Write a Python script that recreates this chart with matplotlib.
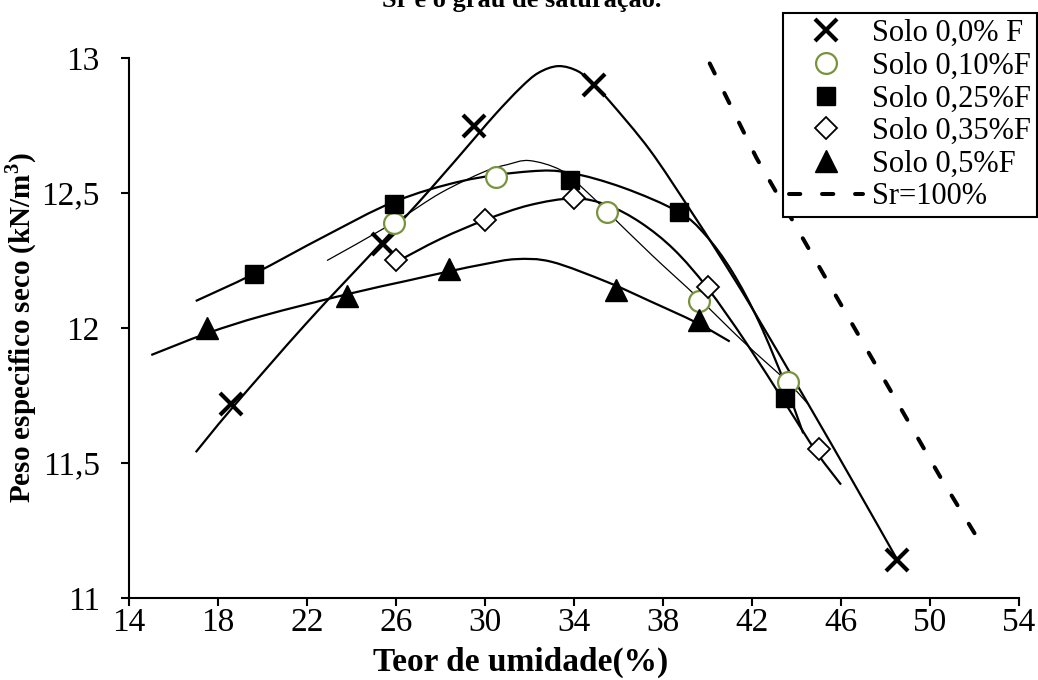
import numpy as np
import matplotlib
matplotlib.use("Agg")
import matplotlib.pyplot as plt
from matplotlib.lines import Line2D
from matplotlib.path import Path
from matplotlib.patches import PathPatch

plt.rcParams["font.family"] = ["Liberation Serif", "DejaVu Serif"]
plt.rcParams["mathtext.fontset"] = "custom"
plt.rcParams["mathtext.rm"] = "Liberation Serif"
plt.rcParams["mathtext.bf"] = "Liberation Serif:bold"

# moisture content (%) and dry unit weight (kN/m3) for each soil mix
w_00 = [18.6, 25.4, 29.5, 34.9, 48.5]
gd_00 = [11.72, 12.31, 12.75, 12.90, 11.14]

w_10 = [25.9, 30.5, 35.5, 39.6, 43.6]
gd_10 = [12.39, 12.56, 12.43, 12.10, 11.80]

w_25 = [19.6, 25.9, 33.8, 38.7, 43.5]
gd_25 = [12.20, 12.46, 12.55, 12.43, 11.74]

w_35 = [26.0, 30.0, 34.0, 40.0, 45.0]
gd_35 = [12.25, 12.40, 12.48, 12.15, 11.55]

w_50 = [17.5, 23.8, 28.4, 35.9, 39.6]
gd_50 = [12.00, 12.12, 12.22, 12.14, 12.03]

# compaction curves (hand-fitted), sampled along their length
c00_w = [17.0, 18.6, 22.0, 25.4, 27.5, 29.5, 30.5, 31.6, 32.4, 33.3, 34.2, 34.9, 35.6,
         37.4, 39.2, 40.5, 42.0, 44.5, 46.5, 48.5]
c00_g = [11.54, 11.70, 12.02, 12.32, 12.51, 12.70, 12.795, 12.89, 12.945, 12.97, 12.95,
         12.90, 12.84, 12.66, 12.44, 12.274, 12.074, 11.722, 11.436, 11.146]

c10_w = [22.9, 25.9, 28.0, 30.0, 31.0, 32.0, 33.4, 34.5, 35.5, 37.5, 39.6, 41.6, 43.6, 44.5]
c10_g = [12.25, 12.39, 12.50, 12.58, 12.605, 12.62, 12.585, 12.51, 12.43, 12.27, 12.11,
         11.95, 11.80, 11.72]

c25_w = [17.0, 19.6, 22.8, 25.9, 29.0, 32.0, 33.8, 36.2, 38.7, 39.9, 41.1, 42.3, 43.5, 44.3]
c25_g = [12.10, 12.20, 12.34, 12.467, 12.545, 12.58, 12.575, 12.52, 12.43, 12.345, 12.21,
         12.025, 11.79, 11.61]

c35_w = [26.0, 28.0, 30.0, 32.0, 34.0, 35.5, 37.0, 38.5, 40.0, 41.7, 43.5, 44.9, 46.0]
c35_g = [12.244, 12.33, 12.40, 12.455, 12.48, 12.455, 12.39, 12.29, 12.148, 11.95, 11.72,
         11.54, 11.42]

c50_w = [15.0, 17.5, 20.0, 23.8, 26.5, 28.4, 30.0, 31.4, 33.0, 35.5, 37.4, 39.5, 41.0]
c50_g = [11.90, 11.98, 12.045, 12.125, 12.175, 12.21, 12.237, 12.255, 12.245, 12.17,
         12.10, 12.02, 11.95]

# saturation line Sr = 100%
w_sat = [40.1, 42.2, 50.45, 52.0]
gd_sat = [12.98, 12.63, 11.45, 11.24]

labels = ["Solo 0,0% F", "Solo 0,10%F", "Solo 0,25%F", "Solo 0,35%F", "Solo 0,5%F"]
x_ticks = [14, 18, 22, 26, 30, 34, 38, 42, 46, 50, 54]
y_ticks = [11, 11.5, 12, 12.5, 13]
y_tick_labels = ["11", "11,5", "12", "12,5", "13"]

series = [(w_00, gd_00), (w_10, gd_10), (w_25, gd_25), (w_35, gd_35), (w_50, gd_50)]
curves = [(c00_w, c00_g), (c10_w, c10_g), (c25_w, c25_g), (c35_w, c35_g), (c50_w, c50_g)]
styles = [
    dict(marker="x", ms=16, mew=3, mfc="black", mec="black"),
    dict(marker="o", ms=15, mew=1.6, mfc="white", mec="#77933C"),
    dict(marker="s", ms=12.5, mew=1, mfc="black", mec="black"),
    dict(marker="D", ms=11.5, mew=1.3, mfc="white", mec="black"),
    dict(marker="^", ms=15.5, mew=1, mfc="black", mec="black"),
]
curve_lw = [1.6, 0.9, 1.6, 1.6, 1.6]
sat_dash = (0, (2.8, 5.4))


def smooth_curve(ax, xs, ys, **kw):
    # Catmull-Rom spline through the sampled curve, drawn as cubic Beziers
    p = np.column_stack([xs, ys])
    n = len(p)
    verts = [p[0]]
    codes = [Path.MOVETO]
    for i in range(n - 1):
        p0 = p[max(i - 1, 0)]
        p1 = p[i]
        p2 = p[i + 1]
        p3 = p[min(i + 2, n - 1)]
        verts += [p1 + (p2 - p0) / 6, p2 - (p3 - p1) / 6, p2]
        codes += [Path.CURVE4] * 3
    ax.add_patch(PathPatch(Path(verts, codes), fill=False, **kw))


fig = plt.figure(figsize=(10.38, 6.8), dpi=100)
ax = fig.add_axes([0.1243, 0.1206, 0.8574, 0.7941])

handles = []
for (wx, gy), (cw, cg), st, lw, lab in zip(series, curves, styles, curve_lw, labels):
    smooth_curve(ax, cw, cg, edgecolor="black", lw=lw, zorder=2)
    ax.plot(wx, gy, ls="none", zorder=3, **st)
    handles.append(Line2D([], [], ls="none", label=lab, **st))

ax.plot(w_sat, gd_sat, color="black", lw=2.9, ls=sat_dash,
        dash_capstyle="round", zorder=2)
handles.append(Line2D([], [], color="black", lw=2.9, ls=sat_dash,
                      dash_capstyle="round", label="Sr=100%"))

ax.set_xlim(14, 54)
ax.set_ylim(11, 13)
ax.set_xticks(x_ticks)
ax.set_yticks(y_ticks)
ax.set_yticklabels(y_tick_labels)
ax.tick_params(direction="out", length=6, width=1.5, labelsize=24)
ax.tick_params(axis="x", pad=1)
ax.tick_params(axis="y", pad=15)
for side in ["top", "right"]:
    ax.spines[side].set_visible(False)
for side in ["left", "bottom"]:
    ax.spines[side].set_linewidth(1.5)

ax.set_xlabel("Teor de umidade(%)", fontsize=24, fontweight="bold")
ax.xaxis.set_label_coords(0.44, -0.09)
ax.set_ylabel(r"Peso especifico seco (kN/m$^{\mathbf{3}}$)", fontsize=21,
              fontweight="bold")
ax.yaxis.set_label_coords(-0.101, 0.5)

fig.text(0.503, 0.989, "Sr e o grau de saturação.", ha="center", va="baseline",
         fontsize=19, fontweight="bold")

leg = fig.legend(handles=handles, loc="upper right", bbox_to_anchor=(0.999, 0.981),
                 fontsize=22, frameon=True, fancybox=False, edgecolor="black",
                 framealpha=1, borderpad=0.2, labelspacing=0.12, handlelength=2.4,
                 handletextpad=0.3, borderaxespad=0)
leg.get_frame().set_linewidth(1.5)

fig.savefig("out.png", dpi=100)
